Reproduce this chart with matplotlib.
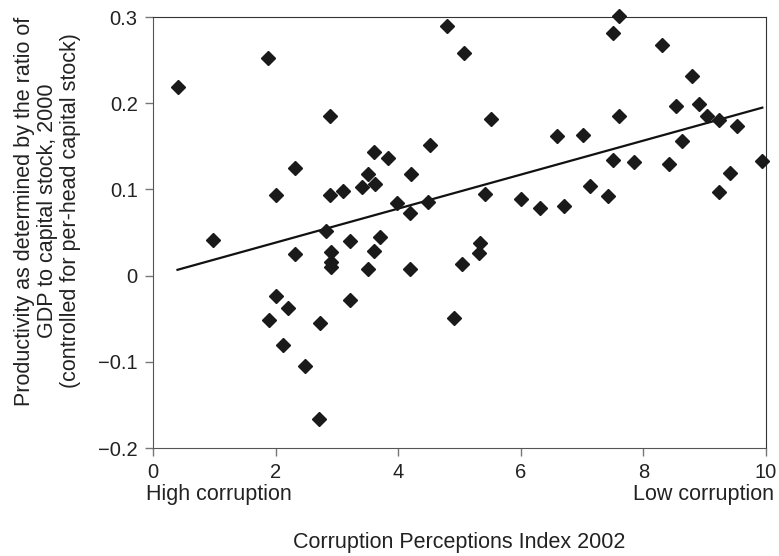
import numpy as np
import matplotlib.pyplot as plt

plt.rcParams['font.family'] = ['Liberation Sans', 'DejaVu Sans']

# Corruption Perceptions Index 2002 vs productivity
cpi = [0.40, 1.87, 2.89, 4.80, 2.31, 2.00, 2.88, 3.10, 3.41, 3.62,
       3.50, 3.61, 3.83, 4.21, 4.52, 3.98, 4.20, 4.49, 5.08, 7.61,
       7.50, 8.31, 8.80, 5.52, 7.61, 8.54, 8.91, 9.03, 9.24, 9.52,
       6.59, 7.01, 8.63, 7.50, 7.84, 8.41, 9.94, 9.42, 9.24, 7.13,
       7.43, 5.42, 6.01, 6.31, 6.71, 0.98, 2.82, 3.21, 3.71, 2.32,
       2.90, 2.90, 2.90, 3.61, 3.51, 4.20, 4.91, 5.04, 5.32, 5.33,
       2.01, 2.20, 1.90, 2.72, 3.21, 2.12, 2.48, 2.70]
productivity = [0.219, 0.253, 0.185, 0.290, 0.125, 0.093, 0.094, 0.098, 0.103, 0.106,
                0.118, 0.143, 0.137, 0.118, 0.151, 0.084, 0.073, 0.085, 0.258, 0.301,
                0.282, 0.268, 0.232, 0.182, 0.185, 0.197, 0.199, 0.185, 0.181, 0.173,
                0.162, 0.163, 0.156, 0.134, 0.132, 0.130, 0.133, 0.119, 0.097, 0.104,
                0.092, 0.095, 0.089, 0.079, 0.081, 0.041, 0.052, 0.040, 0.045, 0.025,
                0.027, 0.016, 0.010, 0.028, 0.008, 0.008, -0.049, 0.013, 0.026, 0.038,
                -0.024, -0.038, -0.051, -0.055, -0.028, -0.081, -0.105, -0.166]

x_ticks = [0, 2, 4, 6, 8, 10]
y_ticks = [-0.2, -0.1, 0, 0.1, 0.2, 0.3]
y_tick_labels = ['\u22120.2', '\u22120.1', '0', '0.1', '0.2', '0.3']

x = np.array(cpi)
y = np.array(productivity)
# least squares trend line over the data range
slope, intercept = np.polyfit(x, y, 1)
xl = np.array([x.min(), x.max()])

fig = plt.figure(figsize=(7.79, 5.56), dpi=100)
ax = fig.add_axes([0.1964, 0.1942, 0.7869, 0.7752])

ax.plot(x, y, 'D', color='#1a1a1a', markersize=7, clip_on=False, zorder=3)
ax.plot(xl, intercept + slope * xl, color='#111111', linewidth=1.6)

ax.set_xlim(0, 10)
ax.set_ylim(-0.2, 0.3)
ax.set_xticks(x_ticks)
ax.set_yticks(y_ticks)
ax.set_yticklabels(y_tick_labels)
ax.tick_params(direction='out', length=6, width=1, color='#777777',
               labelsize=14.5, labelcolor='#222222', pad=5)
for side in ['left', 'bottom']:
    ax.spines[side].set_color('#555555')
for side in ['top', 'right']:
    ax.spines[side].set_color('#333333')

ax.set_ylabel("Productivity as determined by the ratio of\nGDP to capital stock, 2000\n(controlled for per-head capital stock)",
              fontsize=15.5, color='#222222', linespacing=1.1)
ax.yaxis.set_label_coords(-0.118, 0.55)
fig.text(0.188, 0.11, "High corruption", fontsize=15.5, color='#222222', ha='left', va='center')
fig.text(0.994, 0.11, "Low corruption", fontsize=15.5, color='#222222', ha='right', va='center')
fig.text(0.589, 0.025, "Corruption Perceptions Index 2002", fontsize=15.5, color='#222222',
         ha='center', va='center')

fig.savefig('out.png', dpi=100)
